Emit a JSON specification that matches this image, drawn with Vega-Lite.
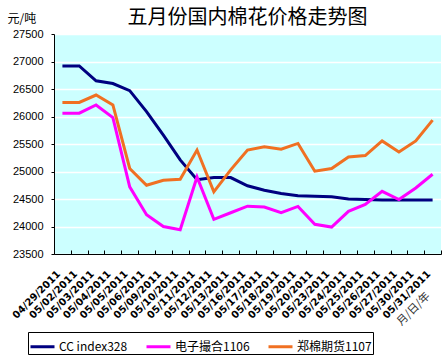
{
  "$schema": "https://vega.github.io/schema/vega-lite/v6.json",
  "autosize": "none",
  "width": 387,
  "height": 220,
  "padding": {"left": 54, "top": 34, "right": 4, "bottom": 105},
  "background": "white",
  "title": {"text": "五月份国内棉花价格走势图", "font": "Noto Sans CJK SC", "fontSize": 20, "fontWeight": "normal", "color": "#000000", "anchor": "middle", "offset": -16},
  "config": {"view": {"fill": "#CCFFFF", "stroke": null}},
  "data": {"values": [
    {"date": "04/29/2011", "series": "CC index328", "price": 26920},
    {"date": "05/02/2011", "series": "CC index328", "price": 26920},
    {"date": "05/03/2011", "series": "CC index328", "price": 26650},
    {"date": "05/04/2011", "series": "CC index328", "price": 26600},
    {"date": "05/05/2011", "series": "CC index328", "price": 26470},
    {"date": "05/06/2011", "series": "CC index328", "price": 26090},
    {"date": "05/09/2011", "series": "CC index328", "price": 25660},
    {"date": "05/10/2011", "series": "CC index328", "price": 25210},
    {"date": "05/11/2011", "series": "CC index328", "price": 24850},
    {"date": "05/12/2011", "series": "CC index328", "price": 24890},
    {"date": "05/13/2011", "series": "CC index328", "price": 24890},
    {"date": "05/16/2011", "series": "CC index328", "price": 24740},
    {"date": "05/17/2011", "series": "CC index328", "price": 24660},
    {"date": "05/18/2011", "series": "CC index328", "price": 24600},
    {"date": "05/19/2011", "series": "CC index328", "price": 24560},
    {"date": "05/20/2011", "series": "CC index328", "price": 24550},
    {"date": "05/23/2011", "series": "CC index328", "price": 24540},
    {"date": "05/24/2011", "series": "CC index328", "price": 24500},
    {"date": "05/25/2011", "series": "CC index328", "price": 24490},
    {"date": "05/26/2011", "series": "CC index328", "price": 24480},
    {"date": "05/27/2011", "series": "CC index328", "price": 24480},
    {"date": "05/30/2011", "series": "CC index328", "price": 24480},
    {"date": "05/31/2011", "series": "CC index328", "price": 24480},
    {"date": "04/29/2011", "series": "电子撮合1106", "price": 26060},
    {"date": "05/02/2011", "series": "电子撮合1106", "price": 26060},
    {"date": "05/03/2011", "series": "电子撮合1106", "price": 26210},
    {"date": "05/04/2011", "series": "电子撮合1106", "price": 25980},
    {"date": "05/05/2011", "series": "电子撮合1106", "price": 24720},
    {"date": "05/06/2011", "series": "电子撮合1106", "price": 24215},
    {"date": "05/09/2011", "series": "电子撮合1106", "price": 24000},
    {"date": "05/10/2011", "series": "电子撮合1106", "price": 23940},
    {"date": "05/11/2011", "series": "电子撮合1106", "price": 24900},
    {"date": "05/12/2011", "series": "电子撮合1106", "price": 24130},
    {"date": "05/13/2011", "series": "电子撮合1106", "price": 24250},
    {"date": "05/16/2011", "series": "电子撮合1106", "price": 24370},
    {"date": "05/17/2011", "series": "电子撮合1106", "price": 24355},
    {"date": "05/18/2011", "series": "电子撮合1106", "price": 24250},
    {"date": "05/19/2011", "series": "电子撮合1106", "price": 24365},
    {"date": "05/20/2011", "series": "电子撮合1106", "price": 24040},
    {"date": "05/23/2011", "series": "电子撮合1106", "price": 23990},
    {"date": "05/24/2011", "series": "电子撮合1106", "price": 24275},
    {"date": "05/25/2011", "series": "电子撮合1106", "price": 24400},
    {"date": "05/26/2011", "series": "电子撮合1106", "price": 24640},
    {"date": "05/27/2011", "series": "电子撮合1106", "price": 24490},
    {"date": "05/30/2011", "series": "电子撮合1106", "price": 24700},
    {"date": "05/31/2011", "series": "电子撮合1106", "price": 24950},
    {"date": "04/29/2011", "series": "郑棉期货1107", "price": 26255},
    {"date": "05/02/2011", "series": "郑棉期货1107", "price": 26255},
    {"date": "05/03/2011", "series": "郑棉期货1107", "price": 26390},
    {"date": "05/04/2011", "series": "郑棉期货1107", "price": 26210},
    {"date": "05/05/2011", "series": "郑棉期货1107", "price": 25055},
    {"date": "05/06/2011", "series": "郑棉期货1107", "price": 24750},
    {"date": "05/09/2011", "series": "郑棉期货1107", "price": 24840},
    {"date": "05/10/2011", "series": "郑棉期货1107", "price": 24860},
    {"date": "05/11/2011", "series": "郑棉期货1107", "price": 25390},
    {"date": "05/12/2011", "series": "郑棉期货1107", "price": 24630},
    {"date": "05/13/2011", "series": "郑棉期货1107", "price": 25030},
    {"date": "05/16/2011", "series": "郑棉期货1107", "price": 25390},
    {"date": "05/17/2011", "series": "郑棉期货1107", "price": 25450},
    {"date": "05/18/2011", "series": "郑棉期货1107", "price": 25405},
    {"date": "05/19/2011", "series": "郑棉期货1107", "price": 25510},
    {"date": "05/20/2011", "series": "郑棉期货1107", "price": 25005},
    {"date": "05/23/2011", "series": "郑棉期货1107", "price": 25055},
    {"date": "05/24/2011", "series": "郑棉期货1107", "price": 25265},
    {"date": "05/25/2011", "series": "郑棉期货1107", "price": 25290},
    {"date": "05/26/2011", "series": "郑棉期货1107", "price": 25555},
    {"date": "05/27/2011", "series": "郑棉期货1107", "price": 25355},
    {"date": "05/30/2011", "series": "郑棉期货1107", "price": 25555},
    {"date": "05/31/2011", "series": "郑棉期货1107", "price": 25935}
  ]},
  "mark": {"type": "line", "strokeWidth": 3, "strokeJoin": "miter"},
  "encoding": {
    "x": {
      "field": "date", "type": "nominal", "sort": null,
      "scale": {"type": "band", "paddingInner": 0, "paddingOuter": 0},
      "axis": {
        "title": "月/日/年", "titleAngle": -45, "titleX": 374, "titleY": 40,
        "titleAlign": "right", "titleBaseline": "middle", "titleFont": "Noto Sans CJK SC",
        "titleFontSize": 11, "titleFontWeight": "normal", "titleColor": "#333333",
        "labelAngle": -45, "labelAlign": "right", "labelBaseline": "middle",
        "labelFont": "DejaVu Sans", "labelFontWeight": "bold", "labelFontSize": 10,
        "labelColor": "#000000", "labelPadding": 22, "labelOffset": -4,
        "tickBand": "extent", "tickSize": -4, "tickColor": "#000000",
        "domainColor": "#000000", "grid": false, "labelOverlap": false
      }
    },
    "y": {
      "field": "price", "type": "quantitative",
      "scale": {"domain": [23500, 27500], "nice": false, "zero": false},
      "axis": {
        "values": [23500, 24000, 24500, 25000, 25500, 26000, 26500, 27000, 27500],
        "format": "d",
        "title": "元/吨", "titleAngle": 0, "titleX": -47, "titleY": -12,
        "titleAlign": "left", "titleBaseline": "alphabetic", "titleFont": "Noto Sans CJK SC",
        "titleFontSize": 12, "titleFontWeight": "normal", "titleColor": "#000000",
        "labelFont": "Liberation Sans", "labelFontSize": 11, "labelColor": "#000000",
        "labelPadding": 8, "tickSize": 3, "tickColor": "#000000",
        "domainColor": "#000000", "grid": true, "gridColor": "#FFFFFF", "gridWidth": 1.5
      }
    },
    "color": {
      "field": "series", "type": "nominal",
      "scale": {"domain": ["CC index328", "电子撮合1106", "郑棉期货1107"], "range": ["#000080", "#FF00FF", "#F07022"]},
      "legend": {
        "title": null, "orient": "none", "direction": "horizontal", "columns": 3,
        "legendX": -26, "legendY": 298, "strokeColor": "#000000", "padding": 1,
        "symbolType": "M-1,0H1", "symbolSize": 576, "symbolStrokeWidth": 3,
        "labelFont": "Noto Sans CJK SC", "labelFontSize": 12, "labelColor": "#000000",
        "labelOffset": 3, "columnPadding": 12
      }
    }
  }
}
